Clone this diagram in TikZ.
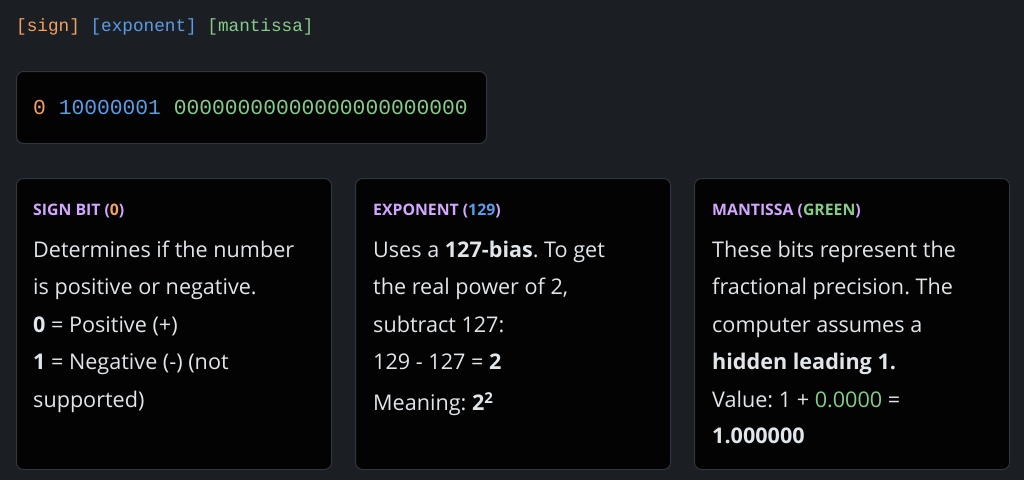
\documentclass[tikz,border=0pt]{standalone}
\usepackage{fontspec}
\setmainfont{Open Sans}
\newfontfamily\codefont{Liberation Mono}
\frenchspacing
\definecolor{bg}{HTML}{1B1F24}
\definecolor{cardfill}{HTML}{030303}
\definecolor{cardline}{HTML}{30363D}
\definecolor{txt}{HTML}{E1E6EB}
\definecolor{head}{HTML}{D2A8FF}
\definecolor{sgn}{HTML}{F2A160}
\definecolor{expo}{HTML}{5A9CE8}
\definecolor{mant}{HTML}{85CC88}
\tikzset{
  card/.style={draw=cardline, fill=cardfill, line width=1pt, rounded corners=7pt, anchor=north west, inner sep=0pt},
  line/.style={anchor=base west, inner sep=0pt, text=txt, font=\fontsize{21.6}{21.6}\selectfont\frenchspacing},
  heading/.style={anchor=base west, inner sep=0pt, text=head, font=\fontsize{15.8}{15.8}\selectfont\bfseries},
  legend/.style={anchor=base west, inner sep=0pt, font=\fontsize{17.7}{17.7}\codefont},
  bits/.style={anchor=base west, inner sep=0pt, font=\fontsize{21.3}{21.3}\codefont}
}
\begin{document}
\begin{tikzpicture}[x=1pt,y=-1pt]
\useasboundingbox[fill=bg] (0,0) rectangle (1024,480);

% legend
\node[legend] (leg) at (16,31) {\textcolor{sgn}{[sign]} \textcolor{expo}{[exponent]} \textcolor{mant}{[mantissa]}};

% bit string box
\node[card, minimum width=470pt, minimum height=72pt] (bitbox) at (16,71) {};
\node[bits] (bitstr) at (33,114) {\textcolor{sgn}{0} \textcolor{expo}{10000001} \textcolor{mant}{00000000000000000000000}};

% cards
\node[card, minimum width=315pt, minimum height=291pt] (c1) at (16,178) {};
\node[card, minimum width=315pt, minimum height=291pt] (c2) at (355,178) {};
\node[card, minimum width=315pt, minimum height=291pt] (c3) at (694,178) {};

% card 1
\node[heading] (h1) at (33,215) {SIGN BIT (\textcolor{sgn}{0})};
\node[line] (a1) at (33,257) {Determines if the number};
\node[line] (a2) at (33,294.5) {is positive or negative.};
\node[line] (a3) at (33,332) {\textbf{0} = Positive (+)};
\node[line] (a4) at (33,369.5) {\textbf{1} = Negative (-) (not};
\node[line] (a5) at (33,407) {supported)};

% card 2
\node[heading] (h2) at (373,215) {EXPONENT (\textcolor{expo}{129})};
\node[line] (b1) at (373,257) {Uses a \textbf{127-bias}. To get};
\node[line] (b2) at (373,294.5) {the real power of 2,};
\node[line] (b3) at (373,332) {subtract 127:};
\node[line] (b4) at (373,369.5) {129 - 127 = \textbf{2}};
\node[line] (b5) at (373,410.5) {Meaning: \textbf{2\raisebox{7pt}{\fontsize{15}{15}\selectfont 2}}};

% card 3
\node[heading] (h3) at (712,215) {MANTISSA (\textcolor{mant}{GREEN})};
\node[line] (d1) at (712,257) {These bits represent the};
\node[line] (d2) at (712,294.5) {fractional precision. The};
\node[line] (d3) at (712,332) {computer assumes a};
\node[line] (d4) at (712,369.5) {\textbf{hidden leading 1.}};
\node[line] (d5) at (712,407) {Value: 1 + \textcolor{mant}{0.0000} =};
\node[line] (d6) at (712,443) {\textbf{1.000000}};
\end{tikzpicture}
\end{document}
